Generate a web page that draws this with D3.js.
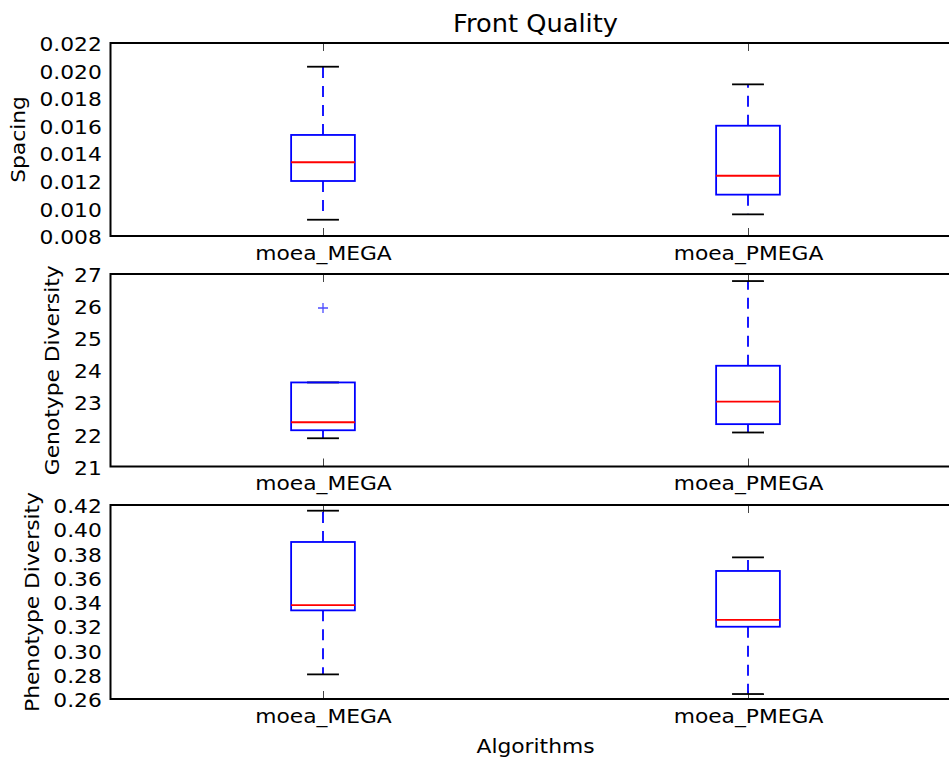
<!DOCTYPE html>
<html>
<head>
<meta charset="utf-8">
<script src="https://cdn.jsdelivr.net/npm/d3@7"></script>
<style>
  html, body { margin: 0; padding: 0; background: #fff; overflow: hidden; }
  svg { display: block; font-family: "DejaVu Sans", sans-serif; }
</style>
</head>
<body>
<svg id="chart" width="949" height="758"></svg>
<script>
// ---------------- data ----------------
const categories = ["moea_MEGA", "moea_PMEGA"];
const positions = [1, 2];

const spacingLow    = [0.00918, 0.00957];
const spacingQ1     = [0.01199, 0.01100];
const spacingMedian = [0.01335, 0.01237];
const spacingQ3     = [0.01533, 0.01600];
const spacingHigh   = [0.02028, 0.01900];
const spacingOutliers = [[], []];
const spacingTicks = [0.008, 0.010, 0.012, 0.014, 0.016, 0.018, 0.020, 0.022];

const genotypeLow    = [21.88, 22.06];
const genotypeQ1     = [22.13, 22.32];
const genotypeMedian = [22.38, 23.02];
const genotypeQ3     = [23.62, 24.14];
const genotypeHigh   = [23.62, 26.78];
const genotypeOutliers = [[25.94], []];
const genotypeTicks = [21, 22, 23, 24, 25, 26, 27];

const phenotypeLow    = [0.2803, 0.2641];
const phenotypeQ1     = [0.3331, 0.3196];
const phenotypeMedian = [0.3375, 0.3252];
const phenotypeQ3     = [0.3895, 0.3656];
const phenotypeHigh   = [0.4153, 0.3768];
const phenotypeOutliers = [[], []];
const phenotypeTicks = [0.26, 0.28, 0.30, 0.32, 0.34, 0.36, 0.38, 0.40, 0.42];

const titleText = "Front Quality";
const xLabelText = "Algorithms";

// ---------------- layout ----------------
const svg = d3.select("#chart");
svg.append("rect").attr("width", 949).attr("height", 758).attr("fill", "#fff");

const left = 110.5, right = 960.5;
const x = d3.scaleLinear().domain([0.5, 2.5]).range([left, right]);
const boxHalf = 0.075, capHalf = 0.0375;
const SX = 1.09; // horizontal glyph stretch
const LW = 1.8;

const panels = [
  { label: "Spacing", top: 43, bottom: 236, ticks: spacingTicks, fmt: d3.format(".3f"),
    low: spacingLow, q1: spacingQ1, med: spacingMedian, q3: spacingQ3, high: spacingHigh, out: spacingOutliers, labelX: 25 },
  { label: "Genotype Diversity", top: 274, bottom: 466.5, ticks: genotypeTicks, fmt: d3.format("d"),
    low: genotypeLow, q1: genotypeQ1, med: genotypeMedian, q3: genotypeQ3, high: genotypeHigh, out: genotypeOutliers, labelX: 59 },
  { label: "Phenotype Diversity", top: 505, bottom: 699, ticks: phenotypeTicks, fmt: d3.format(".2f"),
    low: phenotypeLow, q1: phenotypeQ1, med: phenotypeMedian, q3: phenotypeQ3, high: phenotypeHigh, out: phenotypeOutliers, labelX: 39 }
];

panels.forEach(p => {
  const y = d3.scaleLinear().domain(d3.extent(p.ticks)).range([p.bottom, p.top]);
  const g = svg.append("g");

  // y axis labels
  const ya = g.append("g").attr("transform", `translate(${left},0)`)
    .call(d3.axisLeft(y).tickValues(p.ticks).tickFormat(p.fmt).tickSize(0).tickPadding(8));
  ya.select(".domain").remove();
  ya.selectAll("text").attr("font-size", 20).attr("fill", "#000")
    .attr("font-family", "DejaVu Sans, sans-serif")
    .attr("dy", "0.38em").attr("transform", `scale(${SX},1)`);

  // x axis bottom with inward ticks
  const xb = g.append("g").attr("transform", `translate(0,${p.bottom})`)
    .call(d3.axisBottom(x).tickValues(positions).tickFormat((d, i) => categories[i])
      .tickSizeInner(-8).tickSizeOuter(0).tickPadding(9.5));
  xb.select(".domain").remove();
  xb.selectAll("line").attr("stroke", "#444").attr("stroke-width", 1);
  xb.selectAll("text").attr("font-size", 20).attr("fill", "#000")
    .attr("font-family", "DejaVu Sans, sans-serif").attr("transform", `scale(${SX},1)`);

  const xt = g.append("g").attr("transform", `translate(0,${p.top})`)
    .call(d3.axisTop(x).tickValues(positions).tickFormat("").tickSizeInner(-8).tickSizeOuter(0));
  xt.select(".domain").remove();
  xt.selectAll("line").attr("stroke", "#444").attr("stroke-width", 1);

  // box plots
  positions.forEach((pos, i) => {
    const cx = x(pos);
    const b = g.append("g");
    // whiskers (dashed, from box outward)
    [[p.q3[i], p.high[i]], [p.q1[i], p.low[i]]].forEach(([a, c]) => {
      b.append("line").attr("x1", cx).attr("x2", cx).attr("y1", y(a)).attr("y2", y(c))
        .attr("stroke", "#0000ff").attr("stroke-width", LW).attr("stroke-dasharray", "11,8");
    });
    // caps
    [p.high[i], p.low[i]].forEach(v => {
      b.append("line").attr("x1", x(pos - capHalf)).attr("x2", x(pos + capHalf))
        .attr("y1", y(v)).attr("y2", y(v)).attr("stroke", "#000").attr("stroke-width", LW);
    });
    // box
    b.append("rect").attr("x", x(pos - boxHalf)).attr("width", x(pos + boxHalf) - x(pos - boxHalf))
      .attr("y", y(p.q3[i])).attr("height", y(p.q1[i]) - y(p.q3[i]))
      .attr("fill", "none").attr("stroke", "#0000ff").attr("stroke-width", LW);
    // median
    b.append("line").attr("x1", x(pos - boxHalf)).attr("x2", x(pos + boxHalf))
      .attr("y1", y(p.med[i])).attr("y2", y(p.med[i])).attr("stroke", "#ff0000").attr("stroke-width", LW);
    // outliers
    p.out[i].forEach(v => {
      const oy = y(v);
      b.append("path").attr("d", `M${cx - 5},${oy}H${cx + 5}M${cx},${oy - 5}V${oy + 5}`)
        .attr("stroke", "#0000ff").attr("stroke-width", 1.3).attr("opacity", 0.7);
    });
  });

  // frame
  g.append("rect").attr("x", left).attr("y", p.top).attr("width", right - left).attr("height", p.bottom - p.top)
    .attr("fill", "none").attr("stroke", "#000").attr("stroke-width", 2);

  // y label
  g.append("text").attr("transform", `translate(${p.labelX},${(p.top + p.bottom) / 2}) rotate(-90) scale(${SX},1)`)
    .attr("text-anchor", "middle").attr("font-size", 20).attr("fill", "#000").text(p.label);
});

// title
svg.append("text").attr("transform", `translate(${(left + right) / 2},31.5) scale(1.07,1)`)
  .attr("text-anchor", "middle").attr("font-size", 24).attr("fill", "#000").text(titleText);

// x label
svg.append("text").attr("transform", `translate(${(left + right) / 2},752.5) scale(${SX},1)`)
  .attr("text-anchor", "middle").attr("font-size", 20).attr("fill", "#000").text(xLabelText);
</script>
</body>
</html>
